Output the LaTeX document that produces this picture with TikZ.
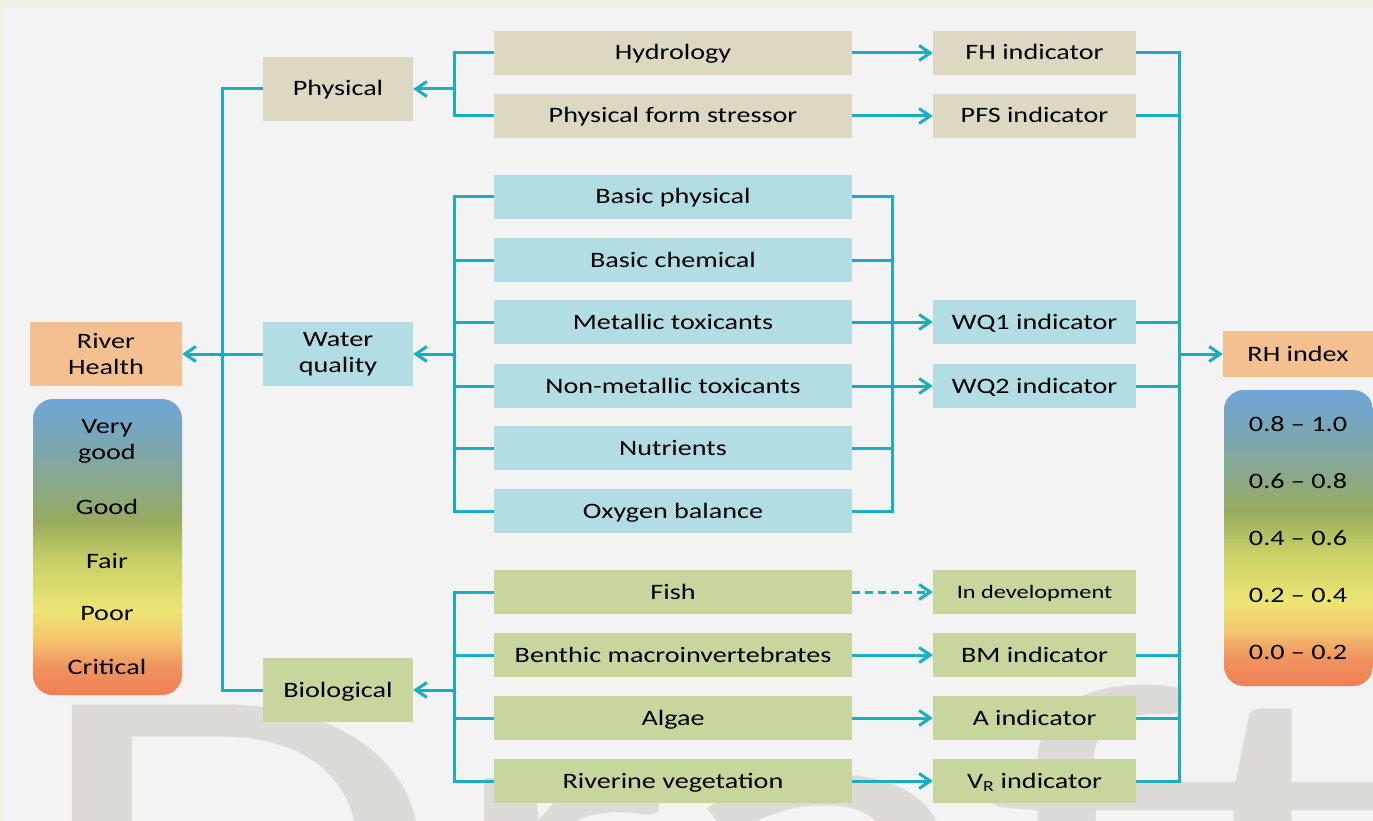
\documentclass[tikz,border=0pt]{standalone}
\usepackage{fontspec}
\setmainfont{Carlito}
\usepackage{graphicx}
\usetikzlibrary{arrows.meta}
\definecolor{lineC}{HTML}{19AEC3}
\definecolor{tanC}{HTML}{DCD8C1}
\definecolor{blueC}{HTML}{B2DDE4}
\definecolor{greenC}{HTML}{C7D69D}
\definecolor{orangeC}{HTML}{F4C08F}
\definecolor{outerC}{HTML}{F0F0E8}
\definecolor{innerC}{HTML}{F3F3F3}
\definecolor{wmC}{HTML}{DCDBD8}
\definecolor{gA}{HTML}{F27D55}
\definecolor{gB}{HTML}{F09560}
\definecolor{gC}{HTML}{F4C46E}
\definecolor{gD}{HTML}{ECE574}
\definecolor{gE}{HTML}{C8D065}
\definecolor{gF}{HTML}{97AB5E}
\definecolor{gG}{HTML}{8DA983}
\definecolor{gH}{HTML}{7DA7AE}
\definecolor{gI}{HTML}{6EA6D7}
\pgfdeclareverticalshading{legendshade}{100bp}{color(0bp)=(gA); color(25bp)=(gA); color(30bp)=(gB); color(34.2bp)=(gC); color(39.2bp)=(gD); color(47.7bp)=(gE); color(54.5bp)=(gF); color(59.6bp)=(gG); color(66.4bp)=(gH); color(75bp)=(gI); color(100bp)=(gI)}
\newcommand\sx[1]{\scalebox{1.28}[1]{#1}}
\begin{document}
\begin{tikzpicture}[x=1pt,y=-1pt,
  box/.style={rectangle, inner sep=0pt, minimum height=44pt, align=center,
    font=\fontsize{22}{26}\selectfont, text=black},
  oneline/.style={text height=19pt, text depth=5pt},
  mid/.style={box, oneline, minimum width=358pt},
  ind/.style={box, oneline, minimum width=203pt},
  cat/.style={box, minimum width=150pt, minimum height=64pt},
  tanbox/.style={fill=tanC},
  bluebox/.style={fill=blueC},
  greenbox/.style={fill=greenC},
  orangebox/.style={fill=orangeC},
  conn/.style={draw=lineC, line width=3pt},
  arr/.style={conn, -{Straight Barb[length=11pt,width=15pt]}},
  darr/.style={arr, dash pattern=on 8pt off 5pt},
  lgtext/.style={font=\fontsize{22}{26}\selectfont, text=black, align=center, inner sep=0pt}
]
% background
\fill[outerC] (0,0) rectangle (1373,821);
\fill[innerC] (5,8) rectangle (1373,821);
\useasboundingbox (0,0) rectangle (1373,821);
% watermark
\begin{scope}
\clip (5,8) rectangle (1373,821);
\node[anchor=base west, inner sep=0pt, text=wmC, font=\fontsize{450}{450}\selectfont] (wm) at (26,993) {\scalebox{1.5}[1]{Draft}};
\end{scope}

% left column
\node[cat, orangebox, minimum width=152pt] (rh) at (106,354) {\sx{River}\\\sx{Health}};
\shade[shading=legendshade, rounded corners=20pt] (33,399) rectangle (182,695);
\node[lgtext] (lvg) at (107,441) {\sx{Very}\\\sx{good}};
\node[lgtext] (lg) at (107,507) {\sx{Good}};
\node[lgtext] (lf) at (107,561) {\sx{Fair}};
\node[lgtext] (lp) at (107,614) {\sx{Poor}};
\node[lgtext] (lc) at (107,667) {\sx{Critical}};

% categories
\node[cat, oneline, tanbox] (phys) at (338,89) {\sx{Physical}};
\node[cat, bluebox] (wq) at (338,354) {\sx{Water}\\\sx{quality}};
\node[cat, oneline, greenbox] (bio) at (338,690) {\sx{Biological}};

% middle column
\node[mid, tanbox] (hyd) at (673,53) {\sx{Hydrology}};
\node[mid, tanbox] (pfs) at (673,116) {\sx{Physical form stressor}};
\node[mid, bluebox] (bph) at (673,197) {\sx{Basic physical}};
\node[mid, bluebox] (bch) at (673,260) {\sx{Basic chemical}};
\node[mid, bluebox] (met) at (673,322) {\sx{Metallic toxicants}};
\node[mid, bluebox] (nmt) at (673,386) {\sx{Non-metallic toxicants}};
\node[mid, bluebox] (nut) at (673,448) {\sx{Nutrients}};
\node[mid, bluebox] (oxy) at (673,511) {\sx{Oxygen balance}};
\node[mid, greenbox] (fish) at (673,592) {\sx{Fish}};
\node[mid, greenbox] (ben) at (673,655) {\sx{Benthic macroinvertebrates}};
\node[mid, greenbox] (alg) at (673,718) {\sx{Algae}};
\node[mid, greenbox] (riv) at (673,781) {\sx{Riverine vegetation}};

% indicator column
\node[ind, tanbox] (fhi) at (1034.5,53) {\sx{FH indicator}};
\node[ind, tanbox] (pfsi) at (1034.5,116) {\sx{PFS indicator}};
\node[ind, bluebox] (wq1) at (1034.5,322) {\sx{WQ1 indicator}};
\node[ind, bluebox] (wq2) at (1034.5,386) {\sx{WQ2 indicator}};
\node[ind, greenbox, font=\fontsize{19}{22}\selectfont, text height=17pt, text depth=5pt] (dev) at (1034.5,592) {\sx{In development}};
\node[ind, greenbox] (bmi) at (1034.5,655) {\sx{BM indicator}};
\node[ind, greenbox] (ai) at (1034.5,718) {\sx{A indicator}};
\node[ind, greenbox] (vri) at (1034.5,781) {\sx{V\textsubscript{R} indicator}};

% right column
\node[box, oneline, orangebox, minimum width=150pt, minimum height=46pt] (rhi) at (1298,354) {\sx{RH index}};
\shade[shading=legendshade, rounded corners=20pt] (1224,390) rectangle (1373,686);
\node[lgtext] (r1) at (1298,424) {\sx{0.8 – 1.0}};
\node[lgtext] (r2) at (1298,481) {\sx{0.6 – 0.8}};
\node[lgtext] (r3) at (1298,538) {\sx{0.4 – 0.6}};
\node[lgtext] (r4) at (1298,595) {\sx{0.2 – 0.4}};
\node[lgtext] (r5) at (1298,652) {\sx{0.0 – 0.2}};

% coordinates
\coordinate (lm) at (222,354);
\coordinate (bp) at (454,89);
\coordinate (bw) at (454,354);
\coordinate (bb) at (454,690);
\coordinate (rw) at (892,354);
\coordinate (rm) at (1179,354);

% left main bracket
\draw[conn] (phys.west) -| (lm) |- (bio.west);
\draw[arr] (wq.west) -- (rh.east);

% physical bracket
\draw[conn] (hyd.west) -| (bp) |- (pfs.west);
\draw[arr] (bp) -- (phys.east);

% water quality bracket
\draw[conn] (bph.west) -| (bw) |- (oxy.west);
\foreach \n in {bch,met,nmt,nut} \draw[conn] (\n.west) -- (\n.west -| bw);
\draw[arr] (bw) -- (wq.east);

% biological bracket
\draw[conn] (fish.west) -| (bb) |- (riv.west);
\draw[conn] (ben.west) -- (ben.west -| bb);
\draw[conn] (alg.west) -- (alg.west -| bb);
\draw[arr] (bb) -- (bio.east);

% water quality right bracket
\draw[conn] (bph.east) -| (rw) |- (oxy.east);
\foreach \n in {bch,nut} \draw[conn] (\n.east) -- (\n.east -| rw);
\draw[arr] (met.east) -- (wq1.west);
\draw[arr] (nmt.east) -- (wq2.west);

% indicator arrows
\draw[arr] (hyd.east) -- (fhi.west);
\draw[arr] (pfs.east) -- (pfsi.west);
\draw[darr] (fish.east) -- (dev.west);
\draw[arr] (ben.east) -- (bmi.west);
\draw[arr] (alg.east) -- (ai.west);
\draw[arr] (riv.east) -- (vri.west);

% right main bracket
\draw[conn] (fhi.east) -| (rm) |- (vri.east);
\foreach \n in {pfsi,wq1,wq2,bmi,ai} \draw[conn] (\n.east) -- (\n.east -| rm);
\draw[arr] (rm) -- (rhi.west);
\end{tikzpicture}
\end{document}
